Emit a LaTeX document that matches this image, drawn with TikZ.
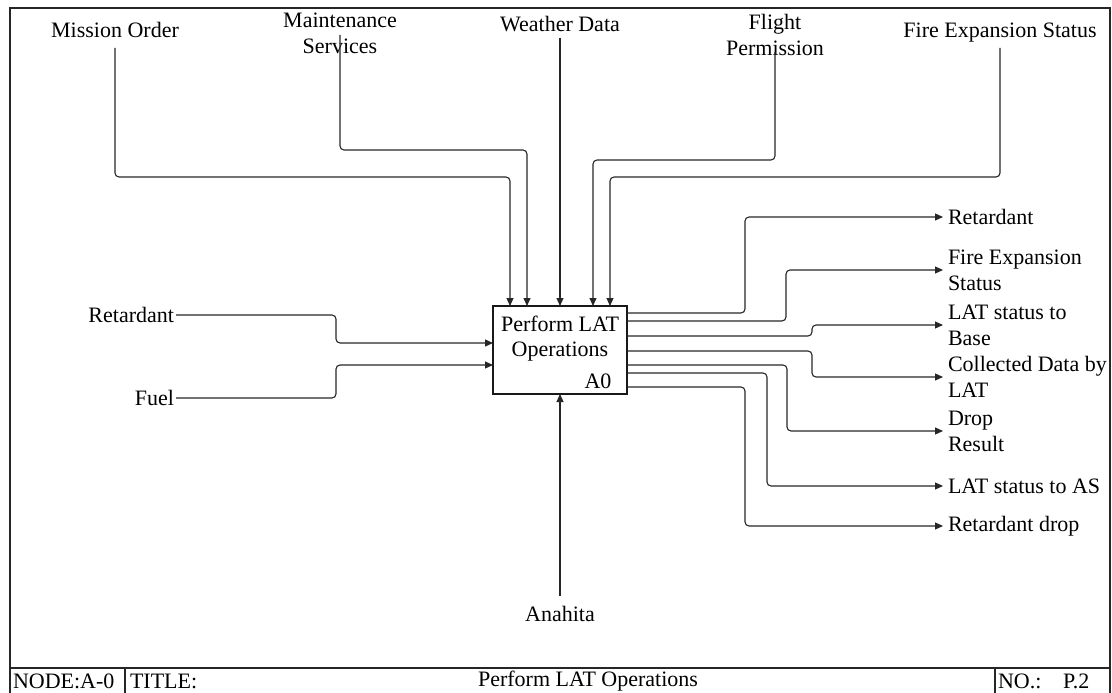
\documentclass[tikz,border=0pt]{standalone}
\usepackage{fontspec}
\setmainfont{Liberation Serif}
\usetikzlibrary{arrows.meta,calc}
\begin{document}
\begin{tikzpicture}[x=1pt,y=-1pt,
  every node/.style={font=\fontsize{22}{26}\selectfont, inner sep=0pt, outer sep=0pt},
  lbl/.style={align=center},
  outlbl/.style={anchor=west, align=left},
  flow/.style={draw=black!85, line width=1.1pt, rounded corners=4pt,
               -{Triangle[length=8pt,width=7pt]}},
  rule/.style={draw=black!85, line width=1.1pt},
  actbox/.style={draw=black!90, line width=1.1pt, minimum width=134pt, minimum height=88pt}]

\useasboundingbox (0,0) rectangle (1112,693);

% sheet frame and title bar
\draw[rule] (10,705) -- (10,8) -- (1110,8) -- (1110,705);
\draw[rule] (10,668) -- (1110,668);
\draw[rule] (125,668) -- (125,705);
\draw[rule] (995,668) -- (995,705);
\node[anchor=west] (nodeid) at (13,681) {NODE:A-0};
\node[anchor=west] (titlekey) at (130,681) {TITLE:};
\node (titletext) at (588,681) {Perform LAT Operations};
\node[anchor=west] (nokey) at (998,681) {NO.:};
\node[anchor=west] (noval) at (1063,681) {P.2};

% activity box
\node[actbox] (A0) at (560,350) {};
\node[lbl, font=\fontsize{22}{25}\selectfont] (A0name) at (560,339) {Perform LAT\\Operations};
\node (A0num) at (598,381) {A0};

% controls
\node[lbl] (mo) at (115,30) {Mission Order};
\node[lbl] (ms) at (340,33) {Maintenance\\Services};
\node[lbl] (wd) at (560,24) {Weather Data};
\node[lbl] (fp) at (775,35) {Flight\\Permission};
\node[lbl] (fes) at (1000,33) {Fire Expansion Status};

\draw[flow] ([yshift=-18pt]mo.center) |- ($(A0.north west)+(17,-129)$) -- ($(A0.north west)+(17,0)$);
\draw[flow] ([yshift=-2pt]ms.center) |- ($(A0.north west)+(34,-156)$) -- ($(A0.north west)+(34,0)$);
\draw[flow] ([yshift=-14pt]wd.center) -- (A0.north);
\draw[flow] ([yshift=-17pt]fp.center) |- ($(A0.north west)+(100,-146)$) -- ($(A0.north west)+(100,0)$);
\draw[flow] ([yshift=-15pt]fes.center) |- ($(A0.north west)+(117,-129)$) -- ($(A0.north west)+(117,0)$);

% inputs
\node[anchor=east] (rin) at (174,315) {Retardant};
\node[anchor=east] (fuel) at (174,398) {Fuel};
\draw[flow] ([xshift=2pt]rin.east) -| ($(A0.north west)+(-157,37)$) -- ($(A0.north west)+(0,37)$);
\draw[flow] ([xshift=2pt]fuel.east) -| ($(A0.north west)+(-157,59)$) -- ($(A0.north west)+(0,59)$);

% mechanism
\node (mech) at (560,614) {Anahita};
\draw[flow] ([yshift=10pt]mech.north) -- (A0.south);

% outputs
\node[outlbl] (o1) at (948,217) {Retardant};
\node[outlbl] (o2) at (948,270) {Fire Expansion\\Status};
\node[outlbl] (o3) at (948,325) {LAT status to\\Base};
\node[outlbl] (o4) at (948,377) {Collected Data by\\LAT};
\node[outlbl] (o5) at (948,431) {Drop\\Result};
\node[outlbl] (o6) at (948,486) {LAT status to AS};
\node[outlbl] (o7) at (948,526) {Retardant drop};

\draw[flow] ($(A0.north east)+(0,7)$)  -| ($(o1.west)+(-203,0)$) -- ([xshift=-5pt]o1.west);
\draw[flow] ($(A0.north east)+(0,15)$) -| ($(o2.west)+(-162,0)$) -- ([xshift=-5pt]o2.west);
\draw[flow] ($(A0.north east)+(0,30)$) -| ($(o3.west)+(-136,0)$) -- ([xshift=-5pt]o3.west);
\draw[flow] ($(A0.north east)+(0,45)$) -| ($(o4.west)+(-136,0)$) -- ([xshift=-5pt]o4.west);
\draw[flow] ($(A0.north east)+(0,59)$) -| ($(o5.west)+(-161,0)$) -- ([xshift=-5pt]o5.west);
\draw[flow] ($(A0.north east)+(0,67)$) -| ($(o6.west)+(-181,0)$) -- ([xshift=-5pt]o6.west);
\draw[flow] ($(A0.north east)+(0,81)$) -| ($(o7.west)+(-203,0)$) -- ([xshift=-5pt]o7.west);
\end{tikzpicture}
\end{document}
